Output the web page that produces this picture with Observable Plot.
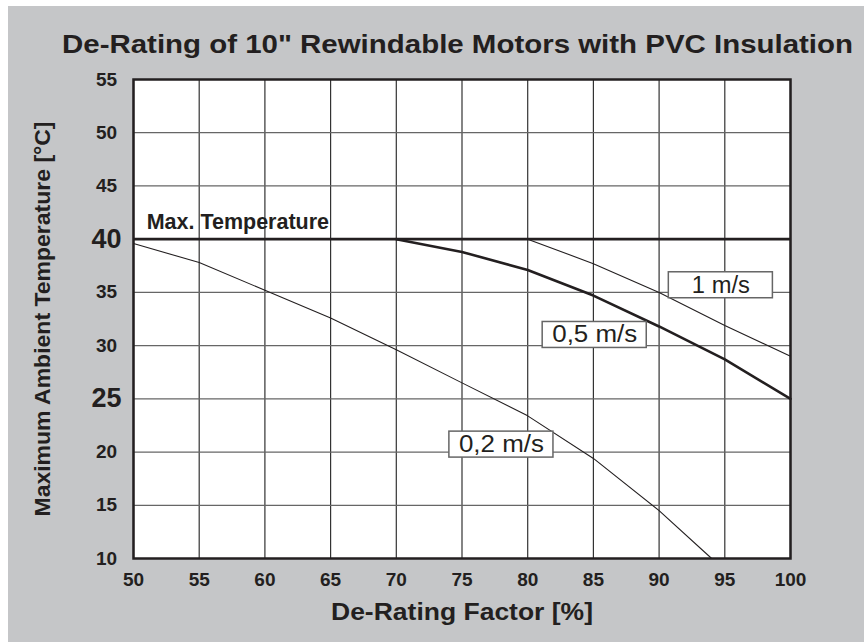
<!DOCTYPE html>
<html>
<head>
<meta charset="utf-8">
<script src="https://cdn.jsdelivr.net/npm/d3@7"></script>
<script src="https://cdn.jsdelivr.net/npm/@observablehq/plot@0.6"></script>
<style>
  body { margin: 0; background: #ffffff; }
  #panel { position: absolute; left: 8px; top: 6px; width: 856px; height: 636px; background: #c5c6c8; }
  #panel svg { display: block; overflow: visible; }
</style>
</head>
<body>
<div id="panel">
  <svg id="title" width="856" height="50">
    <text x="449.5" y="47" text-anchor="middle" textLength="791" lengthAdjust="spacingAndGlyphs"
      style="font-family:'Liberation Sans',Arial,sans-serif;font-weight:bold;font-size:26px;fill:#231f20">De-Rating of 10" Rewindable Motors with PVC Insulation</text>
  </svg>
  <div id="chart"></div>
</div>
<script>
// ---- data ----
const xTicks = [50, 55, 60, 65, 70, 75, 80, 85, 90, 95, 100];
const yTicks = [10, 15, 20, 25, 30, 35, 40, 45, 50, 55];
const bigYTicks = [25, 40];

const maxTemperature = 40;

const factor02 = [50, 55, 60, 65, 70, 75, 80, 85, 90, 94];
const temp02   = [39.6, 37.8, 35.2, 32.6, 29.6, 26.5, 23.4, 19.4, 14.5, 10];

const factor05 = [70, 75, 80, 85, 90, 95, 100];
const temp05   = [40, 38.8, 37.1, 34.7, 31.8, 28.7, 25];

const factor1  = [80, 85, 90, 95, 100];
const temp1    = [40, 37.7, 35.0, 31.9, 29.0];

const seriesLabels = [
  {text: "1 m/s",   x: 94.7, y: 35.67},
  {text: "0,5 m/s", x: 85.1, y: 31.0},
  {text: "0,2 m/s", x: 78.0, y: 20.7}
];
const maxLabel = {text: "Max. Temperature", x: 51.0, y: 40};

const xTitle = "De-Rating Factor [%]";
const yTitle = "Maximum Ambient Temperature [°C]";

// ---- build ----
const toPts = (xs, ys) => xs.map((x, i) => ({x, y: ys[i]}));
const s02 = toPts(factor02, temp02);
const s05 = toPts(factor05, temp05);
const s1  = toPts(factor1, temp1);

const font = "'Liberation Sans', Arial, sans-serif";
const ink = "#231f20";

const chart = Plot.plot({
  width: 856,
  height: 586,
  marginLeft: 125,
  marginRight: 74,
  marginTop: 23,
  marginBottom: 84,
  x: {domain: [50, 100]},
  y: {domain: [10, 55]},
  style: {background: "transparent", fontFamily: font, overflow: "visible"},
  marks: [
    Plot.frame({fill: "#ffffff"}),
    Plot.gridX(xTicks, {stroke: "#333", strokeOpacity: 1, strokeWidth: 1.2}),
    Plot.gridY(yTicks, {stroke: "#666", strokeOpacity: 1, strokeWidth: 1.2}),
    Plot.line(s02, {x: "x", y: "y", stroke: ink, strokeWidth: 1.1}),
    Plot.line(s1, {x: "x", y: "y", stroke: ink, strokeWidth: 1.1}),
    Plot.line(s05, {x: "x", y: "y", stroke: ink, strokeWidth: 2.6}),
    Plot.ruleY([maxTemperature], {stroke: ink, strokeWidth: 2.8}),
    Plot.rect(seriesLabels, {
      x1: d => d.x - 3.96, x2: d => d.x + 3.96,
      y1: d => d.y - 1.22, y2: d => d.y + 1.22,
      fill: "#ffffff", stroke: "#666", strokeWidth: 1.5
    }),
    Plot.text(seriesLabels, {x: "x", y: "y", text: "text", fontSize: 23, fill: ink, fontFamily: font}),
    Plot.text([maxLabel], {x: "x", y: "y", text: "text", dy: -10, textAnchor: "start", lineAnchor: "bottom",
      fontSize: 21.5, fontWeight: "bold", fill: ink, fontFamily: font}),
    Plot.frame({stroke: ink, strokeWidth: 2.5}),
    Plot.axisX(xTicks, {tickSize: 0, tickPadding: 14, fontSize: 19, fontWeight: "bold", fill: ink, label: null}),
    Plot.axisY(yTicks, {tickSize: 0, tickPadding: 27, textAnchor: "middle",
      fontSize: d => bigYTicks.includes(d) ? 27 : 19, fontWeight: "bold", fill: ink, label: null}),
    Plot.text([xTitle], {frameAnchor: "bottom", dy: 54, text: d => d, fontSize: 24, fontWeight: "bold",
      fill: ink, lineAnchor: "middle", textAnchor: "middle", fontFamily: font}),
    Plot.text([yTitle], {frameAnchor: "left", dx: -91, rotate: -90, text: d => d, fontSize: 22, fontWeight: "bold",
      fill: ink, lineAnchor: "middle", textAnchor: "middle", fontFamily: font})
  ]
});
document.getElementById("chart").appendChild(chart);

// fit texts to the reference widths
const fitWidths = new Map([[xTitle, 262], [yTitle, 395], ["1 m/s", 58], ["0,5 m/s", 85], ["0,2 m/s", 85]]);
d3.select(chart).selectAll("text").each(function() {
  const w = fitWidths.get(this.textContent);
  if (w) { this.setAttribute("textLength", w); this.setAttribute("lengthAdjust", "spacingAndGlyphs"); }
});
</script>
</body>
</html>
